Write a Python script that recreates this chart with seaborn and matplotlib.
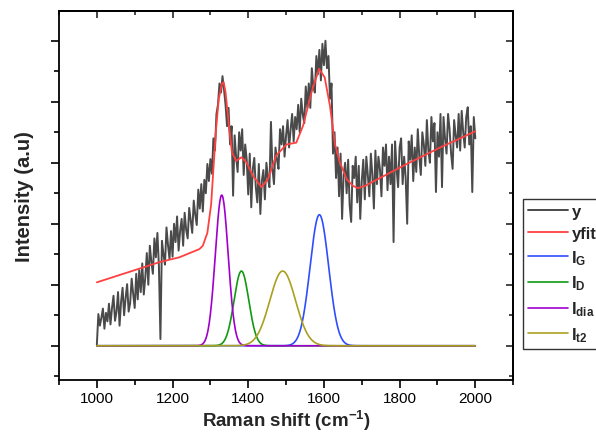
import numpy as np
import pandas as pd
import matplotlib
matplotlib.use("Agg")
import matplotlib.pyplot as plt
from matplotlib.ticker import MultipleLocator
import seaborn as sns

sns.set_style("white")
plt.rcParams["font.family"] = ["Liberation Sans", "DejaVu Sans"]
plt.rcParams["mathtext.fontset"] = "custom"
plt.rcParams["mathtext.rm"] = "Liberation Sans"
plt.rcParams["mathtext.bf"] = "Liberation Sans:bold"
plt.rcParams["mathtext.it"] = "Liberation Sans:italic"

shift = np.arange(1000, 2001, 4)
y = [
    20, 520, 330, 460, 610, 280, 540, 400, 690, 350,
    620, 820, 410, 560, 880, 330, 720, 950, 500, 780,
    1010, 560, 700, 1100, 850, 620, 1180, 760, 1240, 880,
    1350, 840, 1120, 1520, 1000, 1640, 1380, 1180, 1760, 1450,
    1850, 1300, 110, 1720, 1500, 1330, 1940, 1650, 1420, 1880,
    1460, 2000, 1700, 2120, 1560, 1880, 2080, 1640, 2180, 1900,
    1760, 2260, 2050, 1850, 2380, 2150, 1980, 2560, 2250, 2650,
    2200, 2720, 2500, 2980, 2700, 3060, 2820, 3400, 3200, 3800,
    3950, 4300, 4150, 4420, 4200, 3950, 3600, 3900, 3300, 3600,
    2460, 3450, 3100, 2850, 3500, 3200, 3550, 2800, 3300, 3050,
    2480, 3150, 2270, 2900, 3080, 2600, 2350, 2980, 2160, 2700,
    2880, 2400, 3000, 2750, 2600, 3670, 2900, 2650, 3250, 3050,
    2900, 3550, 3300, 3600, 3100, 3450, 3700, 3250, 3550, 3800,
    3350, 3750, 3550, 3950, 3500, 4050, 3800, 3650, 4250, 3900,
    4300, 3900, 4550, 4250, 4150, 4750, 4450, 4850, 4350, 4950,
    4600, 5000, 4550, 4750, 4050, 4300, 3150, 3500, 2750, 3250,
    2450, 3150, 2080, 2800, 3000, 2500, 3050, 2300, 2030, 2950,
    2750, 3100, 2350, 2950, 2080, 2700, 3050, 2400, 3100, 2800,
    2450, 3150, 2800, 2250, 3200, 2650, 3100, 2900, 2450, 3250,
    2950, 3300, 2550, 3100, 2650, 3300, 1700, 3350, 2900, 2600,
    3250, 3400, 2650, 3100, 2750, 2000, 3350, 3050, 3450, 2700,
    3250, 2850, 3550, 3100, 2800, 3500, 3300, 2950, 3700, 3200,
    3000, 3750, 3350, 3650, 2520, 3500, 3100, 3800, 2600, 3750,
    3400, 3150, 3800, 3550, 3150, 2900, 3700, 3450, 3250, 3800,
    3200, 3850, 3500, 3250, 3750, 3910, 3300, 3600, 2520, 3750,
    3400,
]

# fitted curve
fit_shift = [1000, 1165, 1218, 1271, 1280, 1292, 1302, 1308, 1315, 1322,
             1330, 1335, 1340, 1349, 1357, 1368, 1382, 1395, 1412, 1435,
             1452, 1474, 1501, 1527, 1545, 1567, 1587, 1602, 1616, 1629,
             1642, 1660, 1677, 1690, 1708, 1819, 1907, 2000]
yfit = [1040, 1370, 1450, 1585, 1640, 1850, 2320, 2900, 3550, 4040,
        4290, 4320, 4160, 3610, 3170, 3030, 3090, 3010, 2790, 2600,
        2730, 3120, 3300, 3330, 3610, 4150, 4540, 4400, 3930, 3310,
        3010, 2730, 2620, 2585, 2620, 2980, 3250, 3515]

# fitted gaussian components
peak_labels = [r"$\mathbf{I_{G}}$", r"$\mathbf{I_{D}}$", r"$\mathbf{I_{dia}}$", r"$\mathbf{I_{t2}}$"]
peak_center = [1588, 1382, 1330, 1491]
peak_height = [2148, 1225, 2470, 1225]
peak_sigma = [24.5, 19.5, 17.0, 34.0]
peak_colors = ["#2f4dff", "#119911", "#a000cc", "#aaa020"]

fig = plt.figure(figsize=(5.96, 4.35), dpi=100)
ax = fig.add_axes([0.099, 0.124, 0.762, 0.849])

sns.lineplot(x=shift, y=y, ax=ax, color="#4a4a4a", lw=1.4, label="y")
sns.lineplot(x=fit_shift, y=yfit, ax=ax, color="#ff4040", lw=1.3, label="yfit")

xs = np.arange(1000, 2001, 1)
for lab, c, h, s, col in zip(peak_labels, peak_center, peak_height, peak_sigma, peak_colors):
    comp = h * np.exp(-0.5 * ((xs - c) / s) ** 2)
    sns.lineplot(x=xs, y=comp, ax=ax, color=col, lw=1.2, label=lab)

ax.set_xlim(900, 2100)
ax.set_ylim(-562, 5492)
ax.xaxis.set_major_locator(MultipleLocator(200))
ax.xaxis.set_minor_locator(MultipleLocator(100))
ax.yaxis.set_major_locator(MultipleLocator(1000))
ax.yaxis.set_minor_locator(MultipleLocator(500))
ax.tick_params(which="both", direction="out", bottom=True, left=True,
               top=False, right=False, labelleft=False, width=1.2, colors="black")
ax.tick_params(which="major", length=6, labelsize=11, pad=2)
ax.tick_params(which="minor", length=3.5)

topax = ax.secondary_xaxis("top")
topax.xaxis.set_major_locator(MultipleLocator(200))
topax.xaxis.set_minor_locator(MultipleLocator(100))
topax.tick_params(which="both", direction="in", labeltop=False, width=1.2)
topax.tick_params(which="major", length=5)
topax.tick_params(which="minor", length=3)
rax = ax.secondary_yaxis("right")
rax.yaxis.set_major_locator(MultipleLocator(1000))
rax.yaxis.set_minor_locator(MultipleLocator(500))
rax.tick_params(which="both", direction="in", labelright=False, width=1.2)
rax.tick_params(which="major", length=5)
rax.tick_params(which="minor", length=3)

for sp in list(ax.spines.values()) + [topax.spines["top"], rax.spines["right"]]:
    sp.set_linewidth(1.3)
    sp.set_color("black")

ax.set_xlabel(r"Raman shift (cm$^{\mathbf{-1}}$)", fontsize=13.5, fontweight="bold", labelpad=2)
ax.set_ylabel("Intensity (a.u)", fontsize=14.5, fontweight="bold", labelpad=12)

leg = ax.legend(loc="upper left", bbox_to_anchor=(1.022, 0.49), borderaxespad=0,
                frameon=True, fancybox=False, edgecolor="black",
                prop={"weight": "bold", "size": 12}, handlelength=2.4,
                labelspacing=0.42, borderpad=0.3, handletextpad=0.2)
leg.get_frame().set_linewidth(1.0)

fig.savefig("out.png", dpi=100)
